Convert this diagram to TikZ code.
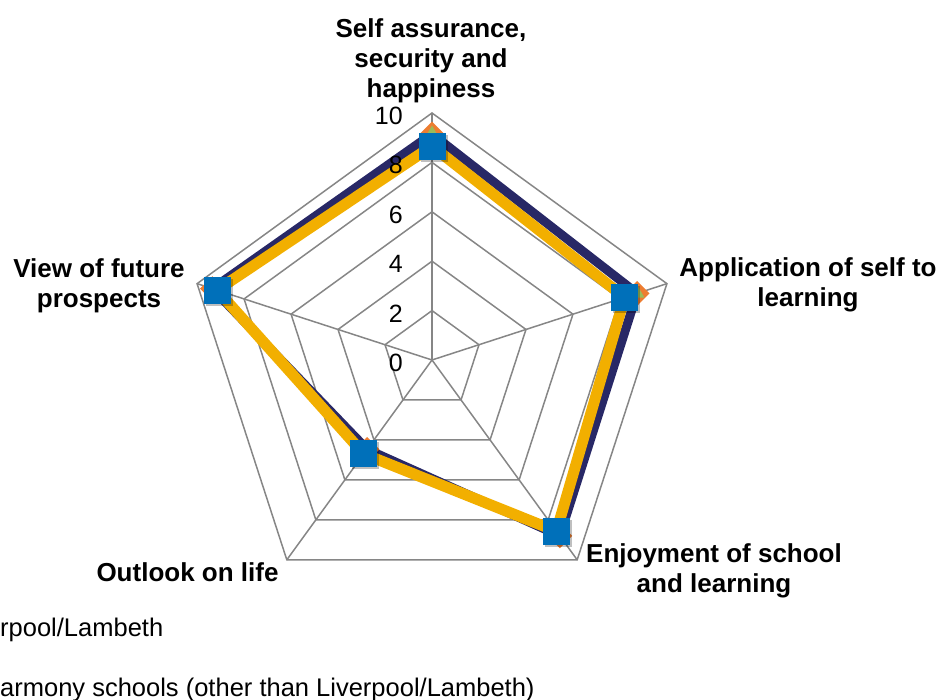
\documentclass[tikz,border=0pt]{standalone}
\usepackage{fontspec}
\setmainfont{Liberation Sans}
\usetikzlibrary{shapes.geometric}
\definecolor{gridgray}{RGB}{134,134,134}
\definecolor{navyline}{RGB}{40,40,102}
\definecolor{goldline}{RGB}{242,175,0}
\definecolor{sqblue}{RGB}{0,112,186}
\definecolor{dmorange}{RGB}{237,125,49}
\definecolor{trgreen}{RGB}{155,187,89}
\tikzset{
  grid/.style={draw=gridgray, line width=1.5pt},
  axlabel/.style={font=\fontsize{26}{30}\selectfont\bfseries, align=center, inner sep=0pt},
  ticklabel/.style={font=\fontsize{25}{30}\selectfont, anchor=east, inner sep=0pt},
  legendtext/.style={font=\fontsize{25.5}{30}\selectfont, anchor=west, inner sep=0pt},
  navyser/.style={draw=navyline, line width=9pt, line join=round},
  goldser/.style={draw=goldline, line width=11pt, line join=round},
  sqmark/.style={rectangle, fill=sqblue, minimum size=27pt, inner sep=0pt},
  sqshadow/.style={rectangle, fill=black, opacity=0.25, minimum size=27pt, inner sep=0pt},
  dmmark/.style={diamond, fill=dmorange, minimum size=25pt, inner sep=0pt},
  trmark/.style={regular polygon, regular polygon sides=3, fill=trgreen, minimum size=17pt, inner sep=0pt}
}
\begin{document}
\begin{tikzpicture}[x=1pt,y=1pt]
\useasboundingbox (0,0) rectangle (942,700);
\def\U{24.7}
\coordinate (c) at (432,340);
% grid rings
\foreach \v in {2,4,6,8,10}{
  \draw[grid] ([shift={(c)}]90:{\v*\U}) -- ([shift={(c)}]18:{\v*\U}) -- ([shift={(c)}]-54:{\v*\U}) -- ([shift={(c)}]-126:{\v*\U}) -- ([shift={(c)}]162:{\v*\U}) -- cycle;
}
% spokes
\foreach \a in {90,18,-54,-126,162}{
  \draw[grid] (c) -- ([shift={(c)}]\a:{10*\U});
}
% data points
\coordinate (n1) at ([shift={(c)}]90:{9.15*\U});
\coordinate (n2) at ([shift={(c)}]18:{8.73*\U});
\coordinate (n3) at ([shift={(c)}]-54:{8.8*\U});
\coordinate (n4) at ([shift={(c)}]-126:{4.47*\U});
\coordinate (n5) at ([shift={(c)}]162:{9.35*\U});
\coordinate (g1) at ([shift={(c)}]90:{8.66*\U});
\coordinate (g2) at ([shift={(c)}]18:{8.2*\U});
\coordinate (g3) at ([shift={(c)}]-54:{8.57*\U});
\coordinate (g4) at ([shift={(c)}]-126:{4.7*\U});
\coordinate (g5) at ([shift={(c)}]162:{9.15*\U});
% series lines
\draw[navyser] (n1) -- (n2) -- (n3) -- (n4) -- (n5) -- cycle;
\draw[goldser] (g1) -- (g2) -- (g3) -- (g4) -- (g5) -- cycle;
% diamond + triangle markers
\foreach \i in {1,...,5}{
  \node[dmmark] (dm\i) at (n\i) {};
  \node[trmark] (tr\i) at (n\i) {};
}
% square markers
\foreach \i in {1,...,5}{
  \node[sqshadow] (sh\i) at ([shift={(2,-2)}]g\i) {};
  \node[sqmark] (sq\i) at (g\i) {};
}
% tick labels (on top of the series)
\foreach \v in {0,2,4,6,8,10}{
  \node[ticklabel] (t\v) at (403,{340+\v*\U-3}) {\v};
}
% axis labels
\node[axlabel] (l1) at (431,639) {Self assurance,\\security and\\happiness};
\node[axlabel] (l2) at (808,415) {Application of self to\\learning};
\node[axlabel] (l3) at (714,129) {Enjoyment of school\\and learning};
\node[axlabel] (l4) at (187.5,128) {Outlook on life};
\node[axlabel] (l5) at (99,414) {View of future\\prospects};
% legend (cut off at left)
\node[legendtext] (lg1) at (0,70) {rpool/Lambeth};
\node[legendtext] (lg2) at (0,10) {armony schools (other than Liverpool/Lambeth)};
\end{tikzpicture}
\end{document}
